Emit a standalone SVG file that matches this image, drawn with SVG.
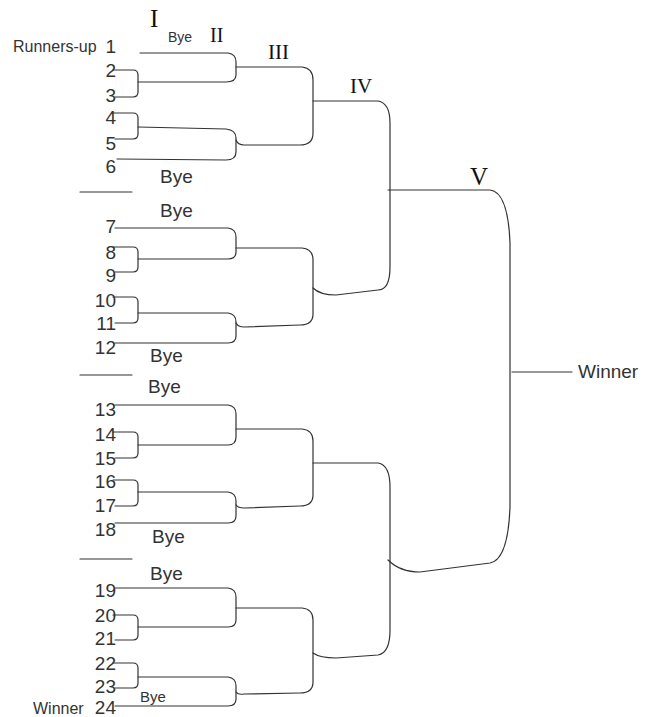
<svg xmlns="http://www.w3.org/2000/svg" width="649" height="717" viewBox="0 0 649 717">
<style>
.c{fill:none;stroke:#333;stroke-width:1.2;stroke-linecap:round;stroke-linejoin:round}
.n{font-family:"Liberation Sans",Arial,sans-serif;font-size:19px;fill:#333;text-anchor:end}
.t{font-family:"Liberation Sans",Arial,sans-serif;font-size:19px;fill:#333}
.s{font-family:"Liberation Sans",Arial,sans-serif;font-size:15px;fill:#333}
.r{font-family:"Liberation Serif","Times New Roman",serif;fill:#111}
</style>
<rect width="649" height="717" fill="#fff"/>
<g id="rounds">
<text class="r" x="150" y="27" font-size="25">I</text>
<text class="r" x="210" y="41.5" font-size="20">II</text>
<text class="r" x="268" y="59" font-size="21">III</text>
<text class="r" x="350" y="93" font-size="21">IV</text>
<text class="r" x="470" y="185" font-size="25">V</text>
</g>
<g id="entrants">
<text class="n" x="116" y="53">1</text>
<text class="n" x="116" y="77">2</text>
<text class="n" x="116" y="102">3</text>
<text class="n" x="116" y="124">4</text>
<text class="n" x="116" y="150">5</text>
<text class="n" x="116" y="173">6</text>
<text class="n" x="116" y="233">7</text>
<text class="n" x="116" y="259">8</text>
<text class="n" x="116" y="282">9</text>
<text class="n" x="116" y="307">10</text>
<text class="n" x="116" y="330">11</text>
<text class="n" x="116" y="354">12</text>
<text class="n" x="116" y="416">13</text>
<text class="n" x="116" y="441">14</text>
<text class="n" x="116" y="465">15</text>
<text class="n" x="116" y="488">16</text>
<text class="n" x="116" y="512">17</text>
<text class="n" x="116" y="536">18</text>
<text class="n" x="116" y="597">19</text>
<text class="n" x="116" y="622">20</text>
<text class="n" x="116" y="645">21</text>
<text class="n" x="116" y="670">22</text>
<text class="n" x="116" y="693">23</text>
<text class="n" x="116" y="714">24</text>
</g>
<g id="side-labels">
<text x="13" y="51.5" font-family="Liberation Sans,Arial,sans-serif" font-size="16" fill="#333">Runners-up</text>
<text x="33" y="714" font-family="Liberation Sans,Arial,sans-serif" font-size="16" fill="#333">Winner</text>
<text class="t" x="578" y="378">Winner</text>
</g>
<g id="byes">
<text x="168" y="41.5" font-family="Liberation Sans,Arial,sans-serif" font-size="14" fill="#333">Bye</text>
<text class="t" x="160" y="182.5">Bye</text>
<text class="t" x="160" y="217">Bye</text>
<text class="t" x="150" y="362">Bye</text>
<text class="t" x="148" y="393">Bye</text>
<text class="t" x="152" y="543">Bye</text>
<text class="t" x="150" y="580">Bye</text>
<text class="s" x="140" y="702">Bye</text>
</g>
<g id="connectors">
<path class="c" d="M80,192H132M80,375H132M80,559H132"/>
<!-- group 1 -->
<path class="c" d="M140,53H228Q236,54 236,62V75Q236,82 226,82H138"/>
<path class="c" d="M113,70H133Q138,70 138,75V92Q138,97 133,97H115"/>
<path class="c" d="M113,113H133Q138,113 138,118V134Q138,139 133,139H115"/>
<path class="c" d="M138,127L226,129Q236,130 236,138V152Q236,160 226,160L117,159"/>
<path class="c" d="M236,67H302Q313,68 313,80V133Q313,145 300,145H244Q238,145 236,140"/>
<!-- group 2 -->
<path class="c" d="M115,228H228Q236,229 236,237V252Q236,259 228,259H138"/>
<path class="c" d="M113,247H133Q138,247 138,252V267Q138,272 133,272H115"/>
<path class="c" d="M113,297H133Q138,297 138,302V318Q138,323 133,323H115"/>
<path class="c" d="M138,313H228Q236,314 236,322V336Q236,343 228,343H115"/>
<path class="c" d="M236,248H302Q313,249 313,260V314Q313,325 300,325L244,327Q238,327 236,323"/>
<!-- group 3 -->
<path class="c" d="M115,405H228Q236,406 236,414V437Q236,445 228,445H138"/>
<path class="c" d="M113,432H133Q138,432 138,437V453Q138,458 133,458H115"/>
<path class="c" d="M113,480H133Q138,480 138,485V501Q138,506 133,506H115"/>
<path class="c" d="M138,492H228Q236,493 236,501V516Q236,523 228,523H115"/>
<path class="c" d="M236,429H302Q313,430 313,441V495Q313,506 300,506L244,508Q238,508 236,505"/>
<!-- group 4 -->
<path class="c" d="M115,588H228Q236,589 236,597V620Q236,627 228,627H138"/>
<path class="c" d="M113,615H133Q138,615 138,620V635Q138,640 133,640H115"/>
<path class="c" d="M113,663H133Q138,663 138,668V683Q138,688 133,688H115"/>
<path class="c" d="M138,677H228Q236,678 236,686V699Q236,706 228,706H115"/>
<path class="c" d="M236,608H302Q313,609 313,620V682Q313,693 300,693L244,694Q238,695 236,692"/>
<!-- round IV -->
<path class="c" d="M313,101H378Q390,103 390,123V267Q390,290 378,290L336,295Q320,295 313,288"/>
<path class="c" d="M313,463H378Q390,465 390,487V630Q390,653 378,655L336,658Q320,658 313,653"/>
<!-- round V -->
<path class="c" d="M388,190H490Q508,192 510,243V507Q508,560 490,563L420,572Q400,572 388,560"/>
<path class="c" d="M512,372H572"/>
</g>
</svg>
